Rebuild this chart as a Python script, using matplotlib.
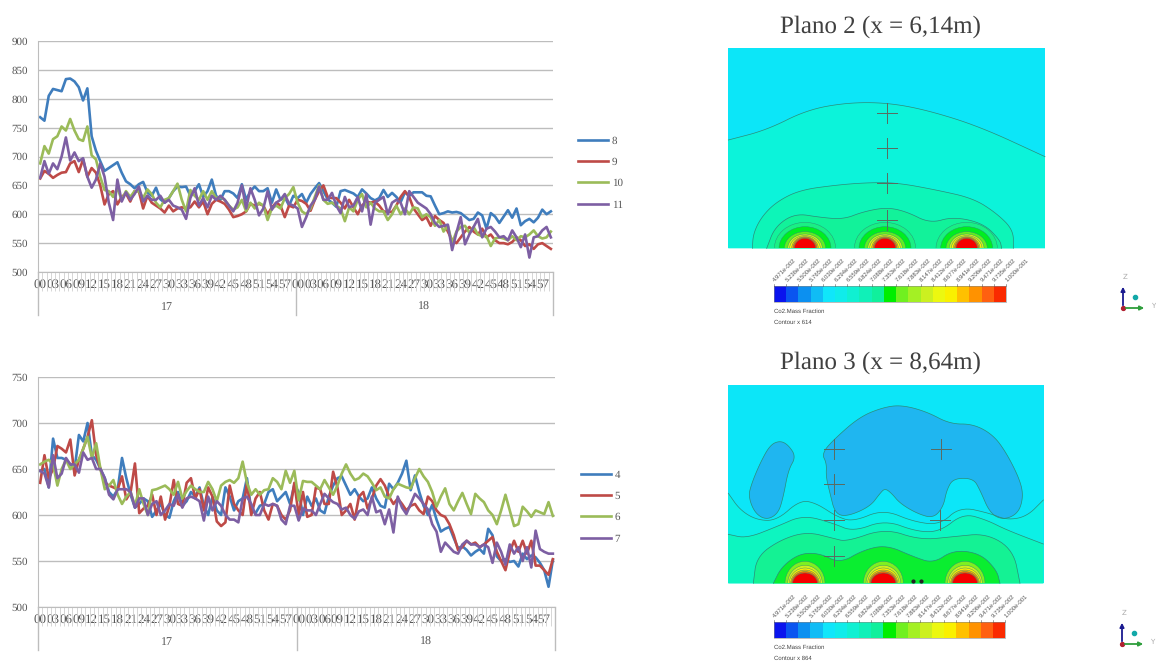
import matplotlib
matplotlib.use('Agg')
import matplotlib.pyplot as plt
from matplotlib.patches import Ellipse, Polygon, Rectangle

plt.rcParams['text.hinting'] = 'no_hinting'
plt.rcParams['text.hinting_factor'] = 1

W, H = 1156, 661

# --- data ---
minutes = ['%02d' % m for m in range(60)] * 2
hours = ['17', '18']

s8 = [768,762,805,817,815,813,834,835,830,820, 797,818,735,710,692,675,680,685,690,672,
      657,652,645,652,656,638,632,646,626,620, 628,640,648,647,648,632,640,652,630,640,
      660,632,625,640,640,636,628,652,625,640, 648,640,640,645,620,643,625,630,615,632,
      628,635,620,635,645,654,640,626,620,613, 640,642,639,636,630,643,636,628,624,628,
      642,630,637,630,621,638,632,638,638,638, 632,631,615,600,602,605,603,604,602,596,
      590,592,603,598,575,602,596,585,596,607, 594,610,581,588,592,586,594,608,600,605]
s9 = [662,675,670,663,668,672,673,688,692,673, 695,665,680,672,650,617,635,640,617,630,
      636,622,640,640,610,632,620,615,610,603, 615,605,610,612,610,612,622,612,622,600,
      618,625,622,618,608,595,597,600,605,618, 615,618,615,600,612,620,615,595,615,612,
      625,623,618,606,625,640,650,630,628,628, 620,610,625,612,600,615,622,620,622,615,
      605,604,604,615,630,640,630,610,600,590, 595,580,597,590,585,570,555,550,560,570,
      578,570,565,575,560,565,555,550,550,548, 552,560,555,545,548,540,548,550,545,540]
s10 = [688,718,705,730,735,752,745,765,745,730, 727,752,702,695,665,642,640,630,645,625,
       640,630,640,640,628,643,635,620,612,625, 628,640,653,625,605,642,632,625,640,625,
       640,628,630,625,615,608,612,625,605,620, 610,620,615,590,610,615,610,628,635,647,
       620,605,600,610,630,650,625,618,620,615, 610,588,612,605,625,635,612,620,610,605,
       605,590,600,615,600,610,600,612,610,595, 600,595,580,590,570,580,550,570,578,580,
       568,578,565,562,562,545,558,560,558,555, 562,555,562,560,565,572,562,558,560,570]
s11 = [663,692,670,688,678,700,733,693,707,692, 697,665,646,660,688,665,620,590,660,622,
       638,625,635,648,622,632,625,625,632,620, 625,615,612,608,592,628,645,615,628,612,
       632,625,632,625,615,605,620,650,610,645, 625,598,610,640,608,620,625,635,618,615,
       610,578,595,615,625,648,625,625,637,615, 602,630,612,615,630,605,635,582,620,625,
       630,600,620,625,620,600,640,630,620,615, 610,600,585,578,580,582,538,568,595,548,
       565,578,592,560,575,578,570,560,562,555, 572,560,543,565,525,560,562,572,578,560]

s4 = [648,650,630,683,662,662,660,655,650,687, 680,700,665,660,650,640,625,620,628,662,
      640,622,608,612,618,615,598,605,612,600, 597,615,625,610,615,625,620,630,610,600,
      620,605,600,630,620,605,615,618,640,605, 602,610,612,625,628,615,620,625,612,633,
      625,600,620,610,618,605,602,620,632,640, 642,632,622,628,620,615,618,630,618,610,
      608,634,628,635,645,659,627,643,625,610, 600,611,595,582,585,587,575,564,566,562,
      556,560,563,558,585,578,555,550,552,549, 550,544,558,552,556,554,548,540,522,551]
s5 = [635,665,640,650,675,672,668,682,643,660, 672,685,703,665,650,635,632,630,628,642,
      617,625,656,602,607,610,622,600,620,595, 610,638,612,610,635,640,618,628,605,630,
      620,593,588,592,632,612,605,600,635,600, 618,625,605,595,612,610,600,595,605,635,
      600,625,598,600,630,628,612,612,647,630, 600,605,612,595,620,625,607,618,632,639,
      632,620,612,618,612,605,610,612,605,601, 620,615,605,600,598,590,578,562,565,572,
      568,570,565,568,572,576,560,550,540,560, 572,560,572,558,572,545,545,540,535,552]
s6 = [655,658,660,655,632,650,660,650,655,660, 672,685,662,678,650,628,632,638,622,612,
      620,625,610,628,612,600,627,628,630,632, 628,622,636,618,626,632,628,625,625,636,
      628,615,632,636,638,635,640,658,635,622, 628,622,627,628,640,636,628,648,635,648,
      616,637,636,636,632,628,638,630,622,632, 645,655,645,638,640,645,642,635,627,630,
      620,618,628,634,632,630,629,640,650,642, 636,625,609,620,629,612,605,615,624,612,
      601,623,618,614,605,600,590,605,622,605, 588,590,609,604,598,605,603,601,614,599]
s7 = [648,645,630,665,640,645,662,655,655,646, 668,660,662,650,650,640,622,617,628,628,
      628,625,608,618,618,600,612,615,600,605, 612,610,622,608,618,620,618,615,594,620,
      605,615,610,600,595,595,592,618,620,612, 600,600,612,610,612,610,595,590,610,610,
      594,607,605,605,600,612,623,618,614,612, 606,608,600,596,604,606,600,620,603,605,
      590,606,581,620,608,601,612,623,618,612, 606,590,582,560,570,565,560,558,568,572,
      568,568,565,568,565,548,570,560,546,568, 558,565,550,565,543,583,563,560,558,558]

colors = ['#3F7DBD', '#BE4A47', '#9BBB59', '#7D5FA3']
GRID = '#BDBDBD'
TXT = '#555555'

# --- colour scale of the two contour plots ---
scale_labels = ['4.971e-002','5.236e-002','5.500e-002','5.765e-002','6.030e-002','6.294e-002',
                '6.559e-002','6.824e-002','7.088e-002','7.353e-002','7.618e-002','7.883e-002',
                '8.147e-002','8.412e-002','8.677e-002','8.941e-002','9.206e-002','9.471e-002',
                '9.735e-002','1.000e-001']
scale_colors = ['#0A14EE','#0A55F0','#0C90F0','#10BCF5','#10E6FA','#10ECEA','#10F0D2','#10F0B8',
                '#10F09C','#00EE00','#70F020','#A4F024','#CCF020','#ECF810','#FAF000',
                '#FFC000','#FF9200','#FF6010','#FA2A00']

# contour curves, in 3x zoom units of each panel (closed along the panel bottom when drawn)
p2_lines = [
    [(25,390),(140,360),(260,300),(380,278),(500,278),(620,300),(780,350),(975,440)],
    [(97,715),(100,670),(125,620),(170,575),(240,540),(350,525),(440,518),(530,518),(650,540),(760,565),(830,610),(880,660),(880,715)],
    [(140,715),(165,650),(225,610),(300,622),(370,628),(430,605),(500,592),(560,605),(630,640),(700,620),(790,640),(840,690),(845,715)],
]
p3_lines = [
    [(25,430),(60,480),(110,510),(170,512),(240,450),(290,460),(350,500),(400,515),(490,478),(580,515),(660,525),(720,470),(810,490),(860,510),(920,500),(970,450)],
    [(25,553),(80,565),(170,530),(250,495),(340,520),(400,545),(495,510),(590,545),(660,545),(730,490),(800,510),(860,540),(970,582)],
    [(100,700),(110,620),(180,570),(260,545),(340,565),(380,575),(495,535),(600,570),(700,560),(800,550),(880,600),(900,700)],
    [(160,700),(185,650),(240,610),(300,610),(360,640),(430,600),(500,585),(580,620),(640,640),(700,600),(780,610),(830,660),(840,700)],
]
p3_blobs = [
    [(180,272),(205,285),(228,320),(205,360),(190,440),(175,490),(140,510),(105,490),(85,440),(95,400),(120,340),(150,285)],
    [(305,310),(345,265),(420,200),(490,172),(545,165),(620,185),(690,222),(760,222),(820,255),(860,310),(900,390),(910,440),(895,490),(850,510),(810,490),(780,420),(760,385),(700,385),(680,420),(670,470),(640,505),(590,490),(540,460),(515,430),(495,415),(480,430),(450,470),(380,500),(345,490),(330,430),(318,380),(320,340)],
]
p2_fills = ['#0CF3DA', '#0DF5B8', '#12F29A']
p3_fills = ['#0CF0E6', '#0DF5C0', '#14F294', '#0AEE30']
p2_rings = [(92,78,'#19F084'), (78,65,'#00EE20'), (62,50,'#60F020'), (52,43,'#D0F020'),
            (46,38,'#FFF000'), (40,35,'#FFB000'), (36,33,'#FF6000'), (32,30,'#F50000')]
p3_rings = [(60,66,'#80F020'), (52,54,'#D0F020'), (47,46,'#FFF000'), (43,40,'#FFB000'),
            (40,35,'#FF6000'), (37,31,'#F50000')]
p2_sources = [255, 495, 740]
p3_sources = [255, 490, 735]
p2_marks = [(500,308),(500,415),(500,520),(500,630)]
p3_marks = [(342,297),(342,403),(342,510),(342,617),(662,297),(660,510)]
outline = '#2B8C78'


def smooth(pts, closed=False, rounds=3):
    # corner cutting so the outlines read as contours, not polygons
    for _ in range(rounds):
        out = [] if closed else [pts[0]]
        n = len(pts)
        for i in range(n if closed else n - 1):
            (x1, y1), (x2, y2) = pts[i], pts[(i + 1) % n]
            out.append((0.75 * x1 + 0.25 * x2, 0.75 * y1 + 0.25 * y2))
            out.append((0.25 * x1 + 0.75 * x2, 0.25 * y1 + 0.75 * y2))
        if not closed:
            out.append(pts[-1])
        pts = out
    return pts


def line_chart(fig, box, series, names, ylim, step, legend_xy):
    left, top, right, bottom = box
    ax = fig.add_axes([left / W, 1 - bottom / H, (right - left) / W, (bottom - top) / H])
    ax.patch.set_visible(False)
    xs = [i + 0.5 for i in range(120)]
    for vals, c, n in zip(series, colors, names):
        ax.plot(xs, vals, color=c, lw=1.9, label=n, solid_joinstyle='round')
    ax.set_xlim(0, 120)
    ax.set_ylim(*ylim)
    ax.set_yticks(range(ylim[0], ylim[1] + 1, step))
    ax.grid(axis='y', color=GRID, lw=1.0)
    ax.set_axisbelow(True)
    for k in ['top', 'right']:
        ax.spines[k].set_visible(False)
    ax.spines['left'].set_color(GRID)
    ax.spines['bottom'].set_color(GRID)
    ax.tick_params(axis='y', length=0, labelsize=8.2, labelcolor=TXT, pad=7,
                   labelfontfamily='Liberation Serif')

    # comb of small ticks, with a label every 3 minutes over it
    ax.set_xticks(range(0, 121), minor=True)
    ax.tick_params(axis='x', which='minor', length=14, color='#D0D0D0', width=0.6)
    ax.set_xticks(xs[::3])
    ax.set_xticklabels(minutes[::3])
    ax.tick_params(axis='x', which='major', length=0, pad=5, labelsize=9.2, labelcolor=TXT,
                   labelfontfamily='Liberation Serif')

    # hour groups below the comb
    tr = ax.get_xaxis_transform()
    for x in [0, 60, 120]:
        ax.plot([x, x], [0, -43 / (bottom - top)], transform=tr, color=GRID, lw=1.0, clip_on=False)
    for x, h in zip([30, 90], hours):
        ax.text(x, -35 / (bottom - top), h, transform=tr, ha='center', va='center',
                fontsize=8.4, color=TXT, family='Liberation Serif')

    ax.legend(loc='center left', bbox_to_anchor=(legend_xy[0] / W, 1 - legend_xy[1] / H),
              bbox_transform=fig.transFigure, frameon=False, borderpad=0, borderaxespad=0,
              handlelength=2.65, handletextpad=0.3, labelspacing=0.95,
              prop={'family': 'Liberation Serif', 'size': 8.2}, labelcolor=TXT)
    return ax


def contour_panel(ov, x0, y0, rect, fills, lines, rings, sources, marks, blobs=()):
    to_px = lambda pts: [(x0 + x / 3, y0 + y / 3) for x, y in pts]
    box = Rectangle((x0 + rect[0] / 3, y0 + rect[1] / 3), (rect[2] - rect[0]) / 3,
                    (rect[3] - rect[1]) / 3, fc='#0CE6F8', ec='none')
    ov.add_patch(box)
    for pts, c in zip(lines, fills):
        curve = to_px(smooth(pts))
        floor = y0 + rect[3] / 3
        ov.add_patch(Polygon(curve + [(curve[-1][0], floor), (curve[0][0], floor)], closed=True, fc=c, ec='none'))
        ov.plot(*zip(*curve), color=outline, lw=0.5)
    for pts in blobs:
        ov.add_patch(Polygon(to_px(smooth(pts, closed=True)), closed=True, fc='#1FB6F0', ec=outline, lw=0.5))
    for cx in sources:
        for rx, ry, c in rings:
            e = Ellipse((x0 + cx / 3, y0 + rect[3] / 3), 2 * rx / 3, 2 * ry / 3, fc=c, ec=outline, lw=0.3)
            ov.add_patch(e)
            e.set_clip_path(box)
    for mx, my in marks:
        px, py = x0 + mx / 3, y0 + my / 3
        ov.plot([px - 10, px + 10], [py, py], color='#5A6A60', lw=0.7)
        ov.plot([px, px], [py - 10, py + 10], color='#5A6A60', lw=0.7)


def scale_bar(ov, x_left, x_right, top, bottom, contour_text):
    n = len(scale_colors)
    dx = (x_right - x_left) / n
    for i, c in enumerate(scale_colors):
        ov.add_patch(Rectangle((x_left + i * dx, top), dx, bottom - top, fc=c, ec='none'))
    ov.add_patch(Rectangle((x_left, top), x_right - x_left, bottom - top, fc='none', ec='#888888', lw=0.4))
    for i, lab in enumerate(scale_labels):
        x = x_left + i * dx
        ov.plot([x, x], [top - 2, top], color='#555555', lw=0.4)
        ov.text(x, top - 5, lab, rotation=45, rotation_mode='anchor', ha='left', va='center',
                fontsize=4.5, color='#555555', family='Liberation Sans')
    ov.text(x_left, bottom + 9, 'Co2.Mass Fraction', fontsize=4.6, color='#444444',
            va='center', family='Liberation Sans')
    ov.text(x_left, bottom + 20, contour_text, fontsize=4, color='#444444',
            va='center', family='Liberation Sans')


def triad(ov, x, y):
    ov.annotate('', xy=(x, y - 24), xytext=(x, y), arrowprops=dict(arrowstyle='-|>', color='#1A1A90', lw=1.3, mutation_scale=6))
    ov.annotate('', xy=(x + 24, y), xytext=(x, y), arrowprops=dict(arrowstyle='-|>', color='#2E9E3C', lw=1.3, mutation_scale=6))
    ov.plot([x], [y], 'o', color='#B02030', ms=2.8)
    ov.plot([x + 12, ], [y - 11], 'o', color='#12A8A8', ms=3)
    ov.text(x + 2, y - 31, 'Z', fontsize=5, color='#AAAAAA', ha='center', va='center')
    ov.text(x + 30, y - 2, 'Y', fontsize=5, color='#AAAAAA', ha='center', va='center')


fig = plt.figure(figsize=(W / 100, H / 100), dpi=100)

# full-figure axes in reference pixels for the contour side
ov = fig.add_axes([0, 0, 1, 1])
ov.set_xlim(0, W)
ov.set_ylim(H, 0)
ov.axis('off')

ov.text(880, 27, 'Plano 2 (x = 6,14m)', fontsize=18.3, color='#404040', ha='center', va='center', family='Liberation Serif')
ov.text(880, 363, 'Plano 3 (x = 8,64m)', fontsize=18.3, color='#404040', ha='center', va='center', family='Liberation Serif')

contour_panel(ov, 720, 10, (25, 115, 975, 715), p2_fills, p2_lines, p2_rings, p2_sources, p2_marks)
contour_panel(ov, 720, 350, (25, 105, 972, 700), p3_fills, p3_lines, p3_rings, p3_sources, p3_marks, p3_blobs)
ov.plot([720 + 578 / 3, 720 + 603 / 3], [350 + 692 / 3] * 2, 'o', color='#222222', ms=2)

scale_bar(ov, 774, 1006, 286, 302, 'Contour x 614')
scale_bar(ov, 774, 1005, 622, 638, 'Contour x 864')
triad(ov, 1123, 308)
triad(ov, 1122, 644)

line_chart(fig, (38, 41, 553, 272), [s8, s9, s10, s11], ['8', '9', '10', '11'], (500, 900), 50, (578, 173))
line_chart(fig, (38, 377, 555, 607), [s4, s5, s6, s7], ['4', '5', '6', '7'], (500, 750), 50, (581, 507))

fig.savefig('out.png', dpi=100)
